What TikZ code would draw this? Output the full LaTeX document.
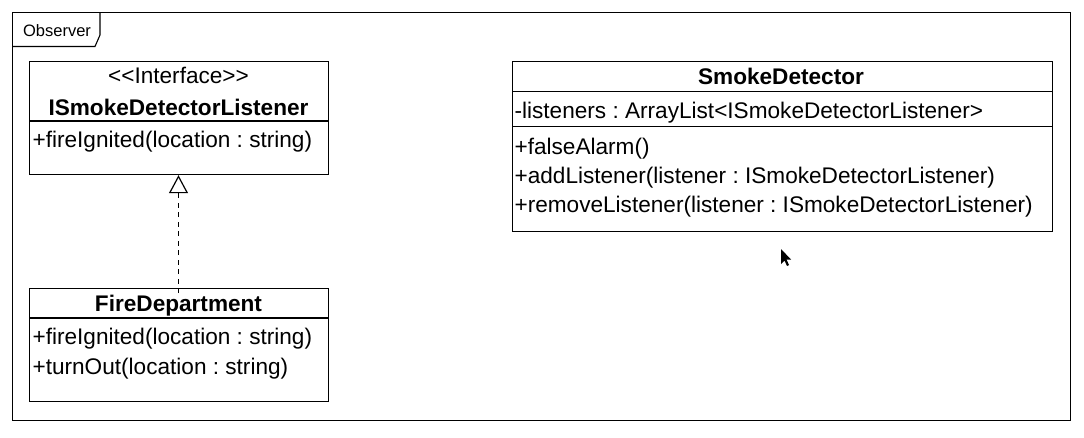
\documentclass[tikz,border=0pt]{standalone}
\usepackage{fontspec}
\setmainfont{Liberation Sans}
\usetikzlibrary{arrows.meta}
\begin{document}
\begin{tikzpicture}[x=1pt,y=-1pt,
  line width=1.2pt,
  umlbox/.style={draw, line width=1.2pt, anchor=north west, inner sep=0pt},
  txt/.style={anchor=base west, inner sep=0pt, font=\fontsize{22.6}{26}\selectfont\frenchspacing},
  ctxt/.style={anchor=base, inner sep=0pt, font=\fontsize{22.6}{26}\selectfont\frenchspacing},
  btxt/.style={ctxt, font=\fontsize{22.6}{26}\selectfont\bfseries},
  realize/.style={dashed, dash pattern=on 5pt off 4.5pt, line width=1.4pt, -{Triangle[open, length=18pt, width=19pt, line width=1.2pt]}}
]
\useasboundingbox (0,0) rectangle (1084,437);
% frame
\node[umlbox, minimum width=1058pt, minimum height=408pt] (frame) at (12,12) {};
\draw[line width=1.1pt] (12,46.5) -- (95,46.5) -- (100,35) -- (100,12);
\node[anchor=base west, inner sep=0pt, font=\fontsize{16.5}{19}\selectfont] (framelabel) at (22.5,36.5) {Observer};

% interface box
\node[umlbox, minimum width=299pt, minimum height=113pt] (iface) at (29,61) {};
\draw (29,121) -- (328,121);
\node[ctxt] (ifst) at (178.5,83.5) {{<}{<}Interface{>}{>}};
\node[btxt] (ifname) at (178.5,115) {ISmokeDetectorListener};
\node[txt] (ifop) at (32,147.5) {+fireIgnited(location : string)};

% FireDepartment
\node[umlbox, minimum width=299pt, minimum height=113pt] (fd) at (29,288) {};
\draw (29,318) -- (328,318);
\node[btxt] (fdname) at (178.5,311) {FireDepartment};
\node[txt] (fdop1) at (32,344) {+fireIgnited(location : string)};
\node[txt] (fdop2) at (32,374) {+turnOut(location : string)};

% SmokeDetector
\node[umlbox, minimum width=540pt, minimum height=170pt] (sd) at (512,61) {};
\draw (512,91.5) -- (1052,91.5);
\draw (512,126.5) -- (1052,126.5);
\node[btxt] (sdname) at (781,84) {SmokeDetector};
\node[txt] (sdattr) at (514,118.3) {-listeners : ArrayList{<}ISmokeDetectorListener{>}};
\node[txt] (sdop1) at (514,154) {+falseAlarm()};
\node[txt] (sdop2) at (514,183.3) {+addListener(listener : ISmokeDetectorListener)};
\node[txt] (sdop3) at (514,212.7) {+removeListener(listener : ISmokeDetectorListener)};

% realization
\draw[realize] ([yshift=-5pt]fd.north -| ifst) -- (iface.south -| ifst);

% mouse cursor
\fill[black] (781,249) -- (781,264) -- (784.5,260.5) -- (787,266) -- (789,265) -- (786.5,259.5) -- (791,259.5) -- cycle;
\end{tikzpicture}
\end{document}
